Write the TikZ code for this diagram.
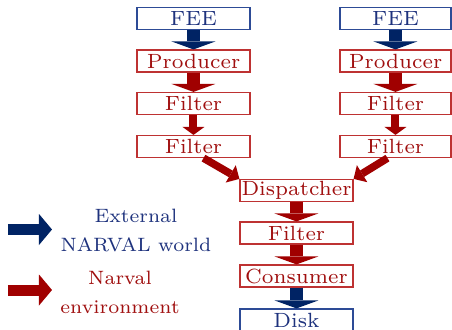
\documentclass[tikz,border=0pt]{standalone}
\usepackage{graphicx}
\usetikzlibrary{arrows.meta}
\definecolor{boxred}{RGB}{190,50,50}
\definecolor{txtred}{RGB}{160,15,15}
\definecolor{arrred}{RGB}{160,0,0}
\definecolor{navy}{RGB}{0,35,100}
\definecolor{boxblue}{RGB}{45,75,150}
\definecolor{txtblue}{RGB}{30,50,125}
\newcommand\txt[1]{\scalebox{1.47}{\fontsize{7}{10.1}\selectfont #1}}
\newcommand\txtt[1]{\scalebox{1.38}{\fontsize{7}{10.5}\selectfont\begin{tabular}{@{}c@{}}#1\end{tabular}}}
\tikzset{
  rbox/.style={draw=boxred, text=txtred, line width=0.6pt, minimum width=56.5pt, minimum height=11pt, inner sep=0pt},
  bbox/.style={rbox, draw=boxblue, text=txtblue},
  thick arr/.style={line width=6.5pt, -{Triangle[width=22pt,length=4pt,line width=0pt]}},
  thin arr/.style={line width=4pt, -{Triangle[width=11pt,length=4pt,line width=0pt]}},
  diag arr/.style={line width=3.8pt, -{Triangle[width=10pt,length=5pt,line width=0pt]}},
  leg arr/.style={line width=5.5pt, -{Triangle[width=15.5pt,length=6.5pt,line width=0pt]}},
}
\begin{document}
\begin{tikzpicture}[x=0.5pt,y=-0.5pt]
\useasboundingbox (0,0) rectangle (452,329);
% left column
\node[bbox] (lfee) at (193.5,18.5) {\txt{FEE}};
\node[rbox] (lprod) at (193.5,61) {\txt{Producer}};
\node[rbox] (lf1) at (193.5,103.5) {\txt{Filter}};
\node[rbox] (lf2) at (193.5,146.5) {\txt{Filter}};
% right column
\node[bbox, minimum width=55.5pt] (rfee) at (395.5,18.5) {\txt{FEE}};
\node[rbox, minimum width=55.5pt] (rprod) at (395.5,61) {\txt{Producer}};
\node[rbox, minimum width=55.5pt] (rf1) at (395.5,103.5) {\txt{Filter}};
\node[rbox, minimum width=55.5pt] (rf2) at (395.5,146.5) {\txt{Filter}};
% center column
\node[rbox] (disp) at (296.5,190.5) {\txt{Dispatcher}};
\node[rbox] (cf) at (296.5,233) {\txt{Filter}};
\node[rbox] (cons) at (296.5,276) {\txt{Consumer}};
\node[bbox] (disk) at (296.5,320) {\txt{Disk}};
% arrows
\draw[thick arr, navy] (lfee) -- (lprod);
\draw[thick arr, arrred] (lprod) -- (lf1);
\draw[thin arr, arrred] (lf1) -- (lf2);
\draw[thick arr, navy] (rfee) -- (rprod);
\draw[thick arr, arrred] (rprod) -- (rf1);
\draw[thin arr, arrred] (rf1) -- (rf2);
\draw[diag arr, arrred] ([xshift=5pt]lf2.south) -- (disp.north west);
\draw[diag arr, arrred] ([xshift=-4pt]rf2.south) -- (disp.north east);
\draw[thick arr, arrred] (disp) -- (cf);
\draw[thick arr, arrred] (cf) -- (cons);
\draw[thick arr, navy] (cons) -- (disk);
% legend
\coordinate (lbs) at (8,229.5);
\coordinate (lbe) at (52,229.5);
\coordinate (lrs) at (8,290);
\coordinate (lre) at (52,290);
\draw[leg arr, navy] (lbs) -- (lbe);
\draw[leg arr, arrred] (lrs) -- (lre);
\node[text=txtblue, inner sep=0pt] (lbt) at (136,231) {\txtt{External\\NARVAL world}};
\node[text=txtred, inner sep=0pt] (lrt) at (120,293) {\txtt{Narval\\environment}};
\end{tikzpicture}
\end{document}
